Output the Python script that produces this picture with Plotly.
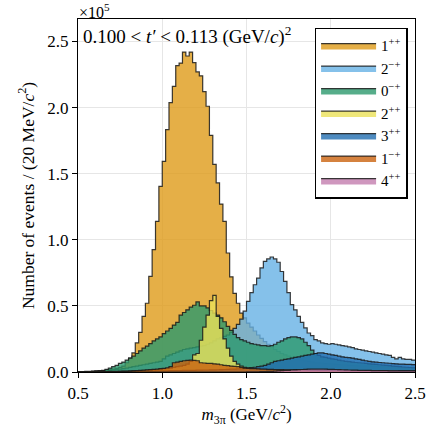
import plotly.graph_objects as go

# bin edges: 100 bins of 20 MeV from 0.5 to 2.5 GeV
m_lo, m_hi, n_bins = 0.5, 2.5, 100

# counts per bin, in units of 1e5
jpc_1pp = [0.002, 0.003, 0.004, 0.005, 0.006, 0.008, 0.010, 0.012, 0.015, 0.018,
           0.022, 0.028, 0.035, 0.045, 0.07, 0.106, 0.144, 0.22, 0.30, 0.42,
           0.52, 0.723, 0.925, 1.14, 1.404, 1.593, 1.833, 2.037, 2.16, 2.317,
           2.337, 2.42, 2.39, 2.42, 2.34, 2.27, 2.24, 2.12, 2.01, 1.79,
           1.57, 1.43, 1.27, 1.14, 0.90, 0.72, 0.595, 0.52, 0.445, 0.41,
           0.37, 0.34, 0.31, 0.28, 0.255, 0.23, 0.21, 0.19, 0.17, 0.155,
           0.14, 0.13, 0.12, 0.11, 0.10, 0.095, 0.09, 0.085, 0.08, 0.075,
           0.07, 0.068, 0.066, 0.064, 0.062, 0.06, 0.058, 0.056, 0.054, 0.052,
           0.05, 0.049, 0.048, 0.047, 0.046, 0.045, 0.044, 0.043, 0.042, 0.041,
           0.04, 0.039, 0.038, 0.037, 0.036, 0.035, 0.034, 0.033, 0.032, 0.031]

jpc_2mp = [0.0, 0.0, 0.001, 0.002, 0.003, 0.004, 0.005, 0.007, 0.009, 0.012,
           0.015, 0.018, 0.021, 0.025, 0.03, 0.035, 0.04, 0.045, 0.05, 0.055,
           0.06, 0.065, 0.07, 0.075, 0.08, 0.10, 0.12, 0.13, 0.14, 0.15,
           0.16, 0.17, 0.175, 0.18, 0.185, 0.19, 0.195, 0.20, 0.21, 0.22,
           0.235, 0.25, 0.26, 0.27, 0.28, 0.30, 0.33, 0.36, 0.40, 0.46,
           0.534, 0.60, 0.66, 0.71, 0.787, 0.837, 0.855, 0.87, 0.855, 0.83,
           0.76, 0.685, 0.60, 0.51, 0.47, 0.42, 0.375, 0.333, 0.295, 0.275,
           0.245, 0.235, 0.22, 0.215, 0.21, 0.215, 0.21, 0.205, 0.20, 0.195,
           0.19, 0.185, 0.175, 0.17, 0.165, 0.16, 0.155, 0.15, 0.145, 0.14,
           0.135, 0.13, 0.125, 0.11, 0.10, 0.11, 0.10, 0.095, 0.095, 0.09]

jpc_0mp = [0.0, 0.001, 0.002, 0.003, 0.004, 0.006, 0.008, 0.010, 0.02, 0.03,
           0.04, 0.05, 0.065, 0.075, 0.09, 0.105, 0.12, 0.14, 0.16, 0.18,
           0.195, 0.215, 0.235, 0.25, 0.265, 0.29, 0.31, 0.33, 0.355, 0.375,
           0.43, 0.45, 0.47, 0.49, 0.505, 0.53, 0.50, 0.50, 0.485, 0.465,
           0.445, 0.43, 0.41, 0.38, 0.345, 0.315, 0.285, 0.26, 0.245, 0.235,
           0.225, 0.215, 0.21, 0.205, 0.20, 0.20, 0.195, 0.20, 0.21, 0.225,
           0.235, 0.25, 0.26, 0.265, 0.265, 0.26, 0.25, 0.225, 0.20, 0.165,
           0.14, 0.125, 0.115, 0.11, 0.105, 0.10, 0.095, 0.09, 0.085, 0.08,
           0.078, 0.075, 0.072, 0.07, 0.068, 0.065, 0.062, 0.06, 0.058, 0.055,
           0.052, 0.05, 0.048, 0.045, 0.043, 0.04, 0.038, 0.036, 0.034, 0.032]

jpc_2pp = [0.001, 0.001, 0.001, 0.002, 0.002, 0.002, 0.003, 0.003, 0.003, 0.004,
           0.004, 0.005, 0.005, 0.006, 0.006, 0.007, 0.008, 0.009, 0.01, 0.011,
           0.012, 0.014, 0.016, 0.018, 0.02, 0.023, 0.026, 0.03, 0.035, 0.04,
           0.045, 0.05, 0.06, 0.08, 0.13, 0.14, 0.24, 0.34, 0.43, 0.54,
           0.58, 0.42, 0.33, 0.25, 0.18, 0.12, 0.08, 0.06, 0.045, 0.035,
           0.03, 0.028, 0.026, 0.024, 0.022, 0.02, 0.019, 0.018, 0.017, 0.016,
           0.015, 0.014, 0.014, 0.013, 0.013, 0.012, 0.012, 0.011, 0.011, 0.01,
           0.01, 0.01, 0.009, 0.009, 0.009, 0.008, 0.008, 0.008, 0.008, 0.007,
           0.007, 0.007, 0.007, 0.006, 0.006, 0.006, 0.006, 0.006, 0.005, 0.005,
           0.005, 0.005, 0.005, 0.005, 0.004, 0.004, 0.004, 0.004, 0.004, 0.004]

jpc_3pp = [0.0, 0.0, 0.0, 0.0, 0.0, 0.001, 0.001, 0.001, 0.001, 0.002,
           0.002, 0.002, 0.003, 0.003, 0.003, 0.004, 0.004, 0.005, 0.005, 0.006,
           0.006, 0.007, 0.007, 0.008, 0.008, 0.009, 0.009, 0.01, 0.01, 0.011,
           0.011, 0.012, 0.012, 0.013, 0.013, 0.014, 0.014, 0.015, 0.015, 0.016,
           0.016, 0.017, 0.018, 0.019, 0.02, 0.021, 0.022, 0.024, 0.026, 0.028,
           0.03, 0.033, 0.036, 0.04, 0.045, 0.05, 0.06, 0.07, 0.08, 0.085,
           0.09, 0.095, 0.10, 0.105, 0.11, 0.115, 0.12, 0.125, 0.13, 0.135,
           0.14, 0.145, 0.145, 0.14, 0.135, 0.13, 0.125, 0.12, 0.115, 0.11,
           0.108, 0.105, 0.10, 0.095, 0.09, 0.085, 0.08, 0.077, 0.074, 0.072,
           0.07, 0.068, 0.066, 0.064, 0.062, 0.06, 0.06, 0.058, 0.058, 0.056]

jpc_1mp = [0.0, 0.0, 0.0, 0.001, 0.001, 0.001, 0.002, 0.002, 0.002, 0.003,
           0.003, 0.003, 0.004, 0.004, 0.005, 0.006, 0.008, 0.01, 0.012, 0.014,
           0.016, 0.018, 0.02, 0.022, 0.025, 0.028, 0.032, 0.04, 0.07, 0.075,
           0.08, 0.085, 0.088, 0.09, 0.088, 0.085, 0.07, 0.068, 0.065, 0.065,
           0.062, 0.06, 0.055, 0.05, 0.048, 0.045, 0.042, 0.04, 0.035, 0.03,
           0.028, 0.026, 0.025, 0.024, 0.022, 0.021, 0.02, 0.02, 0.019, 0.018,
           0.018, 0.017, 0.017, 0.016, 0.016, 0.015, 0.015, 0.015, 0.014, 0.014,
           0.014, 0.013, 0.013, 0.013, 0.012, 0.012, 0.012, 0.012, 0.011, 0.011,
           0.011, 0.011, 0.01, 0.01, 0.01, 0.01, 0.01, 0.009, 0.009, 0.009,
           0.009, 0.009, 0.009, 0.008, 0.008, 0.008, 0.008, 0.008, 0.008, 0.008]

jpc_4pp = [0.0] * 50 + \
          [0.001, 0.001, 0.002, 0.002, 0.003, 0.003, 0.004, 0.005, 0.006, 0.008,
           0.01, 0.012, 0.013, 0.015, 0.016, 0.018, 0.019, 0.02, 0.021, 0.022,
           0.022, 0.022, 0.022, 0.021, 0.02, 0.02, 0.019, 0.018, 0.017, 0.016,
           0.015, 0.014, 0.014, 0.013, 0.013, 0.012, 0.012, 0.011, 0.011, 0.01,
           0.01, 0.01, 0.009, 0.009, 0.009, 0.008, 0.008, 0.008, 0.008, 0.008]

labels = ["1<sup>++</sup>", "2<sup>\u2212+</sup>", "0<sup>\u2212+</sup>", "2<sup>++</sup>",
          "3<sup>++</sup>", "1<sup>\u2212+</sup>", "4<sup>++</sup>"]
series = [jpc_1pp, jpc_2mp, jpc_0mp, jpc_2pp, jpc_3pp, jpc_1mp, jpc_4pp]
colors = [(222, 155, 25), (102, 177, 229), (44, 153, 109), (235, 225, 89),
          (34, 110, 176), (202, 99, 15), (195, 125, 174)]

FONT = "Liberation Serif"
edges = [m_lo + i * (m_hi - m_lo) / n_bins for i in range(n_bins + 1)]

fig = go.Figure()
for lab, vals, c in zip(labels, series, colors):
    fig.add_trace(go.Scatter(
        x=edges, y=list(vals) + [vals[-1]],
        mode="lines", line_shape="hv",
        line=dict(color="rgba(25,25,25,0.85)", width=1.2),
        fill="tozeroy", fillcolor="rgba(%d,%d,%d,0.8)" % c,
        name=lab, hoverinfo="skip",
    ))

axis_common = dict(
    showline=True, linecolor="black", linewidth=1.3, mirror=True,
    ticks="outside", ticklen=5, tickwidth=1.2, tickcolor="black",
    showgrid=True, gridcolor="#e6e6e6", gridwidth=1, zeroline=False,
    automargin=False,
    tickfont=dict(family=FONT, size=17, color="black"),
)
fig.update_xaxes(range=[0.5, 2.5], tickvals=[0.5, 1.0, 1.5, 2.0, 2.5],
                 ticktext=["0.5", "1.0", "1.5", "2.0", "2.5"],
                 title=dict(text="<i>m</i><sub>3\u03c0</sub> (GeV/<i>c</i><sup>2</sup>)",
                            font=dict(family=FONT, size=17, color="black"), standoff=6),
                 **axis_common)
fig.update_yaxes(range=[0, 2.67], tickvals=[0, 0.5, 1.0, 1.5, 2.0, 2.5],
                 ticktext=["0.0", "0.5", "1.0", "1.5", "2.0", "2.5"],
                 title=dict(text="Number of events / (20 MeV/<i>c</i><sup>2</sup>)",
                            font=dict(family=FONT, size=17.5, color="black"), standoff=8),
                 **axis_common)

fig.add_annotation(text="\u00d710<sup>5</sup>", xref="paper", yref="paper",
                   x=0, y=1.0, xanchor="left", yanchor="bottom", yshift=-3,
                   showarrow=False, borderpad=0,
                   font=dict(family=FONT, size=16, color="black"))
fig.add_annotation(text="0.100 &lt; <i>t\u2032</i> &lt; 0.113 (GeV/<i>c</i>)<sup>2</sup>",
                   xref="paper", yref="paper", x=0.01, y=0.995,
                   xanchor="left", yanchor="top", showarrow=False,
                   font=dict(family=FONT, size=19, color="black"))

fig.update_layout(
    width=436, height=427,
    margin=dict(l=78, r=21, t=19, b=55),
    plot_bgcolor="white", paper_bgcolor="white",
    showlegend=True,
    legend=dict(x=0.978, y=0.975, xanchor="right", yanchor="top",
                bgcolor="white", bordercolor="black", borderwidth=1.5,
                font=dict(family=FONT, size=15, color="black"),
                tracegroupgap=0, itemwidth=55),
)

fig.write_html("out.html", config={"displayModeBar": False},
               post_script="document.body.style.margin='0px';")
